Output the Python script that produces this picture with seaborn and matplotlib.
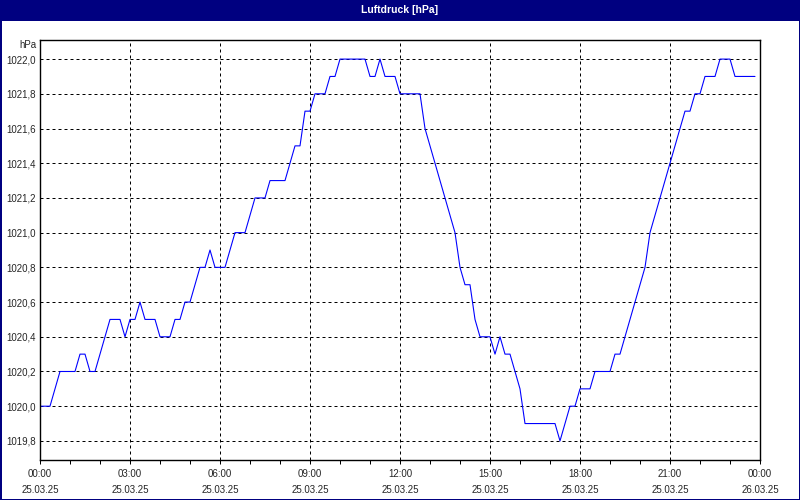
import pandas as pd
import matplotlib
matplotlib.use("Agg")
import matplotlib.pyplot as plt
import matplotlib.dates as mdates
from matplotlib.ticker import MultipleLocator, FuncFormatter
from matplotlib.patches import Rectangle
import seaborn as sns

# ---------------------------------------------------------
# Data: air pressure in hPa, one reading every 10 minutes (25.03.25)
# ---------------------------------------------------------
start_time = "2025-03-25 00:00"
end_time = "2025-03-26 00:00"
title = "Luftdruck [hPa]"
unit = "hPa"

pressure = [
    1020.0, 1020.0, 1020.0, 1020.1, 1020.2, 1020.2,   # 00h
    1020.2, 1020.2, 1020.3, 1020.3, 1020.2, 1020.2,   # 01h
    1020.3, 1020.4, 1020.5, 1020.5, 1020.5, 1020.4,   # 02h
    1020.5, 1020.5, 1020.6, 1020.5, 1020.5, 1020.5,   # 03h
    1020.4, 1020.4, 1020.4, 1020.5, 1020.5, 1020.6,   # 04h
    1020.6, 1020.7, 1020.8, 1020.8, 1020.9, 1020.8,   # 05h
    1020.8, 1020.8, 1020.9, 1021.0, 1021.0, 1021.0,   # 06h
    1021.1, 1021.2, 1021.2, 1021.2, 1021.3, 1021.3,   # 07h
    1021.3, 1021.3, 1021.4, 1021.5, 1021.5, 1021.7,   # 08h
    1021.7, 1021.8, 1021.8, 1021.8, 1021.9, 1021.9,   # 09h
    1022.0, 1022.0, 1022.0, 1022.0, 1022.0, 1022.0,   # 10h
    1021.9, 1021.9, 1022.0, 1021.9, 1021.9, 1021.9,   # 11h
    1021.8, 1021.8, 1021.8, 1021.8, 1021.8, 1021.6,   # 12h
    1021.5, 1021.4, 1021.3, 1021.2, 1021.1, 1021.0,   # 13h
    1020.8, 1020.7, 1020.7, 1020.5, 1020.4, 1020.4,   # 14h
    1020.4, 1020.3, 1020.4, 1020.3, 1020.3, 1020.2,   # 15h
    1020.1, 1019.9, 1019.9, 1019.9, 1019.9, 1019.9,   # 16h
    1019.9, 1019.9, 1019.8, 1019.9, 1020.0, 1020.0,   # 17h
    1020.1, 1020.1, 1020.1, 1020.2, 1020.2, 1020.2,   # 18h
    1020.2, 1020.3, 1020.3, 1020.4, 1020.5, 1020.6,   # 19h
    1020.7, 1020.8, 1021.0, 1021.1, 1021.2, 1021.3,   # 20h
    1021.4, 1021.5, 1021.6, 1021.7, 1021.7, 1021.8,   # 21h
    1021.8, 1021.9, 1021.9, 1021.9, 1022.0, 1022.0,   # 22h
    1022.0, 1021.9, 1021.9, 1021.9, 1021.9, 1021.9,   # 23h
]

df = pd.DataFrame({
    "Zeit": pd.date_range(start_time, periods=len(pressure), freq="10min"),
    "Luftdruck": pressure,
})

# ---------------------------------------------------------
# Style
# ---------------------------------------------------------
sns.set_style("white")
plt.rcParams["font.family"] = ["Liberation Sans", "DejaVu Sans"]
plt.rcParams["font.size"] = 7

NAVY = "#000080"
PX = 0.72  # one pixel in points at dpi=100

fig = plt.figure(figsize=(8, 5), dpi=100, facecolor="white")
ax = fig.add_axes([40 / 800, 40 / 500, 720 / 800, 420 / 500])

sns.lineplot(data=df, x="Zeit", y="Luftdruck", ax=ax, color="#0000FF",
             linewidth=1.1 * PX, estimator=None)

ax.set_xlim(pd.Timestamp(start_time), pd.Timestamp(end_time))
ax.set_ylim(1019.69, 1022.11)
ax.set_xlabel("")
ax.set_ylabel("")

# y axis: 0.2 hPa steps, comma decimals
ax.yaxis.set_major_locator(MultipleLocator(0.2))
ax.yaxis.set_major_formatter(FuncFormatter(lambda v, p: f"{v:.1f}".replace(".", ",")))

# x axis: labels every 3 hours, small ticks every hour
ax.xaxis.set_major_locator(mdates.HourLocator(byhour=range(0, 24, 3)))
ax.xaxis.set_minor_locator(mdates.HourLocator())
ax.xaxis.set_major_formatter(mdates.DateFormatter("%H:%M\n%d.%m.%y"))

ax.tick_params(axis="x", which="both", direction="out", length=3, width=PX,
               color="black", pad=3.5, labelsize=7, bottom=True)
ax.tick_params(axis="y", which="both", length=0, pad=3, labelsize=7, left=True)
for tick in ax.xaxis.get_major_ticks():
    tick.label1.set_linespacing(1.75)

ax.grid(True, which="major", color="black", linestyle=(0, (3, 3)), linewidth=PX)
for side in ax.spines.values():
    side.set_color("black")
    side.set_linewidth(1.4 * PX)
    side.set_visible(True)

# unit label above the y axis
fig.text(37 / 800, 1 - 45 / 500, unit, ha="right", va="center", fontsize=7)

# title bar
fig.add_artist(Rectangle((0, 1 - 21 / 500), 1, 21 / 500, transform=fig.transFigure,
                         facecolor=NAVY, edgecolor="none"))
fig.text(0.5, 1 - 10 / 500, title, ha="center", va="center", color="white",
         fontsize=7.5, fontweight="bold")

# window border
fig.add_artist(Rectangle((0, 0), 1, 1, transform=fig.transFigure, fill=False,
                         edgecolor=NAVY, linewidth=3 * PX))

fig.savefig("out.png", dpi=100, facecolor="white")
plt.close(fig)
